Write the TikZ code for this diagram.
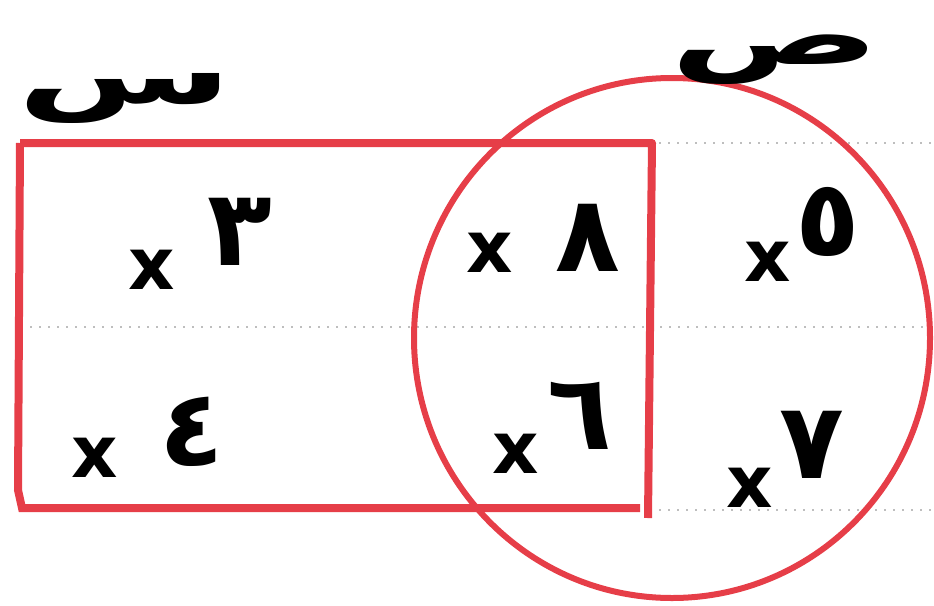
\documentclass[tikz,border=0pt]{standalone}
\usepackage{fontspec}
\newfontfamily\arabicfont[Script=Arabic]{DejaVu Sans}
\newfontfamily\digitfont{DejaVu Sans}
\TeXXeTstate=1
\definecolor{venred}{RGB}{230,62,72}
\definecolor{dotgray}{RGB}{190,190,190}
\tikzset{
  setline/.style={draw=venred, line width=8pt},
  notebook/.style={draw=dotgray, line width=1.2pt, dash pattern=on 2pt off 7pt},
  digit/.style={inner sep=0pt, font=\digitfont\bfseries\fontsize{106}{106}\selectfont},
  cross/.style={inner sep=0pt, font=\digitfont\bfseries\fontsize{72}{72}\selectfont},
  setname/.style={inner sep=0pt, xscale=1.9, font=\arabicfont\bfseries\fontsize{82}{82}\selectfont}
}
\begin{document}
\begin{tikzpicture}[x=1pt,y=-1pt]
\useasboundingbox (0,0) rectangle (934,605);
% notebook lines
\draw[notebook] (650,143) -- (934,143);
\draw[notebook] (30,327) -- (934,327);
\draw[notebook] (650,510) -- (934,510);
% set X: rectangle
\draw[setline, line join=round] (20,143) -- (652,143) -- (648,518);
\draw[setline] (20,143) -- (18,490) -- (22,508) -- (640,508);
% set Y: circle
\draw[setline, line width=6pt] (672,338) ellipse (258 and 260);
% labels
\node[setname] (labS) at (125,98) {\beginR س\endR};
\node[setname] (labP) at (775,60) {\beginR ص\endR};
% elements
\node[cross] (c3) at (152,270) {x};
\node[digit] (d3) at (240,232) {٣};
\node[cross] (c4) at (95,458) {x};
\node[digit] (d4) at (192,432) {٤};
\node[cross] (c8) at (490,253) {x};
\node[digit] (d8) at (588,238) {٨};
\node[cross] (c6) at (516,454) {x};
\node[digit] (d6) at (580,416) {٦};
\node[cross] (c5) at (768,262) {x};
\node[digit] (d5) at (828,222) {٥};
\node[cross] (c7) at (750,488) {x};
\node[digit] (d7) at (812,445) {٧};
\end{tikzpicture}
\end{document}
